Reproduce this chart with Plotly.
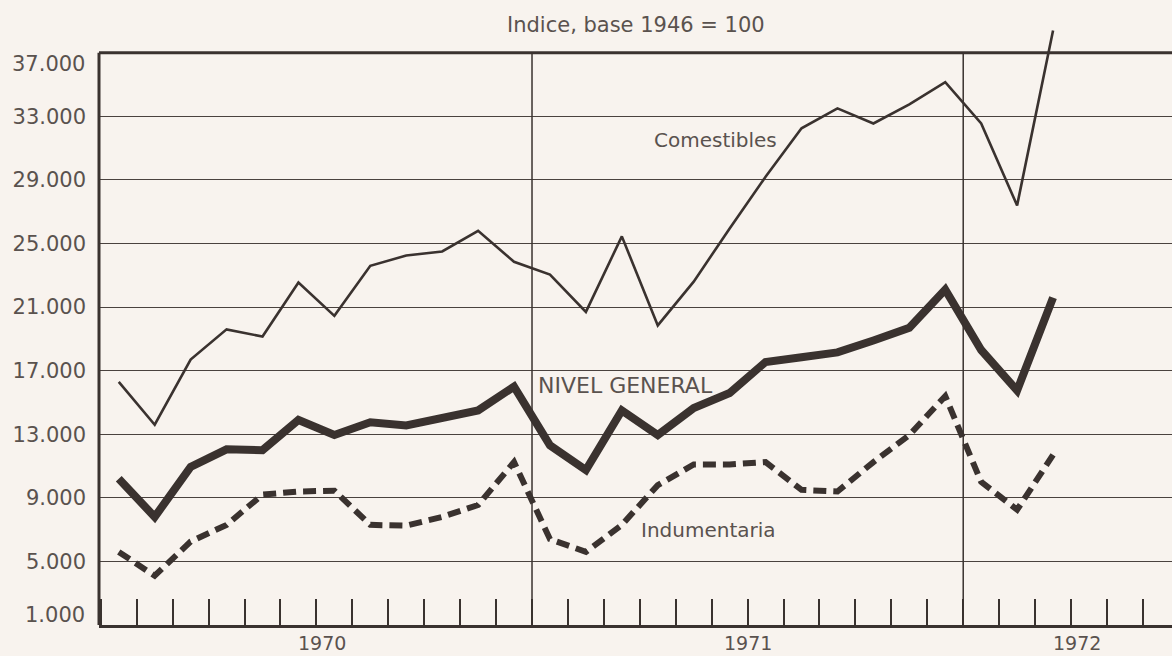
import plotly.graph_objects as go

# ---------------- data ----------------
months = ["1970-01", "1970-02", "1970-03", "1970-04", "1970-05", "1970-06",
          "1970-07", "1970-08", "1970-09", "1970-10", "1970-11", "1970-12",
          "1971-01", "1971-02", "1971-03", "1971-04", "1971-05", "1971-06",
          "1971-07", "1971-08", "1971-09", "1971-10", "1971-11", "1971-12",
          "1972-01", "1972-02", "1972-03"]

comestibles = [16300, 13600, 17700, 19600, 19150, 22550, 20450, 23600, 24250,
               24500, 25800, 23850, 23050, 20700, 25450, 19850, 22600, 25950,
               29200, 32250, 33500, 32550, 33750, 35150, 32550, 27400, 38400]

nivel_general = [10200, 7800, 10950, 12050, 12000, 13900, 12950, 13750, 13550,
                 14050, 14500, 16000, 12300, 10750, 14500, 12950, 14650, 15600,
                 17550, 17850, 18150, 18900, 19700, 22100, 18300, 15750, 21600]

indumentaria = [5600, 4100, 6250, 7300, 9200, 9400, 9450, 7300, 7250,
                7800, 8550, 11250, 6400, 5600, 7300, 9800, 11100, 11100,
                11250, 9500, 9400, 11250, 12950, 15400, 10000, 8250, 11700]

y_tick_values = [1000, 5000, 9000, 13000, 17000, 21000, 25000, 29000, 33000, 37000]
y_tick_labels = ["1.000", "5.000", "9.000", "13.000", "17.000", "21.000",
                 "25.000", "29.000", "33.000", "37.000"]

year_labels = ["1970", "1971", "1972"]
year_label_pos = [5.66, 17.5, 26.67]          # position along the month axis

title_text = "Indice, base 1946 = 100"
series_labels = ["Comestibles", "NIVEL GENERAL", "Indumentaria"]

# ---------------- style ----------------
BG = "#f8f3ee"
INK = "#3a322f"
TEXT = "#5a524e"
FONT = "DejaVu Sans"
FS = 21

x = list(range(len(months)))
x_range = [-0.55, 29.31]
n_ticks = 30
month_bounds = [i + 0.5 for i in range(-1, n_ticks)]
year_starts = [months.index(m) - 0.5 for m in ("1971-01", "1972-01")]

fig = go.Figure()
fig.add_trace(go.Scatter(x=x, y=comestibles, mode="lines", name=series_labels[0],
                         line=dict(color=INK, width=2.6)))
fig.add_trace(go.Scatter(x=x, y=nivel_general, mode="lines", name=series_labels[1],
                         line=dict(color=INK, width=8)))
fig.add_trace(go.Scatter(x=x, y=indumentaria, mode="lines", name=series_labels[2],
                         line=dict(color=INK, width=6, dash="13px,7px")))

grid_vals = y_tick_values[1:-1]
grid_text = y_tick_labels[1:-1]

fig.update_layout(
    width=1172, height=656,
    margin=dict(l=99, r=0, t=21, b=31),
    paper_bgcolor=BG, plot_bgcolor=BG,
    showlegend=False,
    font=dict(family=FONT, color=TEXT, size=FS),
    xaxis=dict(range=x_range, tickmode="array", tickvals=month_bounds,
               showticklabels=False, ticks="inside", ticklen=26, tickwidth=1.6,
               tickcolor=INK, showgrid=False, zeroline=False,
               showline=True, linecolor=INK, linewidth=3),
    yaxis=dict(range=[1000, 39000], tickmode="array", tickvals=grid_vals,
               ticktext=grid_text, ticks="", ticklabelstandoff=12,
               showgrid=True, gridcolor="#4a423e", gridwidth=1.4,
               zeroline=False, showline=False,
               tickfont=dict(family=FONT, size=FS, color=TEXT)),
)

shapes = [
    # left axis
    dict(type="line", xref="paper", yref="y", x0=0, x1=0,
         y0=y_tick_values[0], y1=y_tick_values[-1], line=dict(color=INK, width=3)),
    # top border
    dict(type="line", xref="paper", yref="y", x0=0, x1=1,
         y0=y_tick_values[-1], y1=y_tick_values[-1], line=dict(color=INK, width=3)),
]
for xs in year_starts:
    shapes.append(dict(type="line", xref="x", yref="y", x0=xs, x1=xs,
                       y0=y_tick_values[0], y1=y_tick_values[-1],
                       line=dict(color=INK, width=1.5)))
fig.update_layout(shapes=shapes)

ann = []
# end labels of y axis (slightly offset as in original)
ann.append(dict(text=y_tick_labels[0], xref="paper", yref="y", x=0, y=y_tick_values[0],
                xanchor="right", yanchor="middle", xshift=-12, yshift=10,
                showarrow=False, font=dict(size=FS)))
ann.append(dict(text=y_tick_labels[-1], xref="paper", yref="y", x=0, y=y_tick_values[-1],
                xanchor="right", yanchor="middle", xshift=-12, yshift=-11,
                showarrow=False, font=dict(size=FS)))
for lab, pos in zip(year_labels, year_label_pos):
    ann.append(dict(text=lab, xref="x", yref="paper", x=pos, y=0,
                    xanchor="center", yanchor="middle", yshift=-18,
                    showarrow=False, font=dict(size=19)))
ann.append(dict(text=title_text, xref="paper", yref="paper", x=0.5, y=1,
                xanchor="center", yanchor="middle", yshift=-4,
                showarrow=False, font=dict(size=21)))
ann.append(dict(text=series_labels[0], xref="x", yref="y", x=16.6, y=31500,
                xanchor="center", yanchor="middle", showarrow=False, font=dict(size=20)))
ann.append(dict(text=series_labels[1], xref="x", yref="y", x=14.09, y=16050,
                xanchor="center", yanchor="middle", showarrow=False, font=dict(size=22)))
ann.append(dict(text=series_labels[2], xref="x", yref="y", x=16.4, y=6950,
                xanchor="center", yanchor="middle", showarrow=False, font=dict(size=20)))
fig.update_layout(annotations=ann)

fig.write_html(
    "out.html",
    config={"displayModeBar": False},
    post_script="document.body.style.margin='0';document.body.style.background='" + BG + "';",
)
